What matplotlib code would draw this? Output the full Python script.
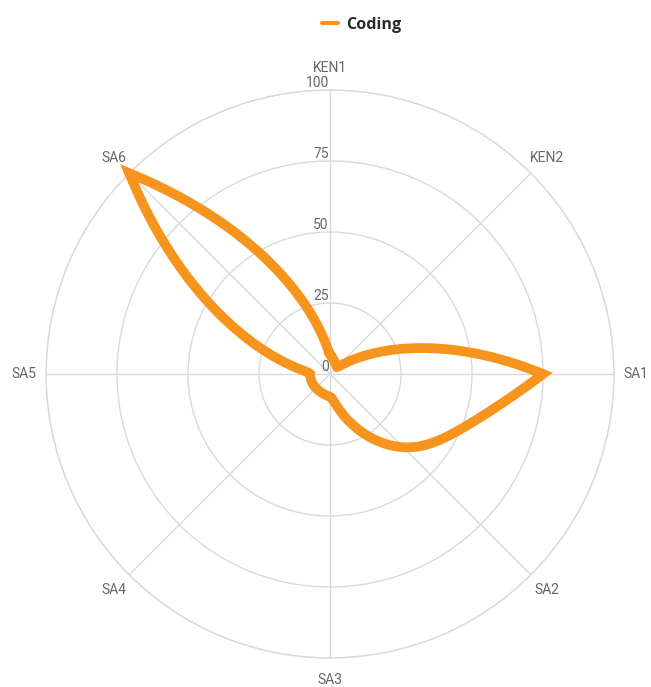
import numpy as np
import matplotlib.pyplot as plt

# 레이더 차트 데이터
categories = ['KEN1', 'KEN2', 'SA1', 'SA2', 'SA3', 'SA4', 'SA5', 'SA6']
coding = [7, 3.5, 75, 36.5, 8, 7, 7, 100]
r_ticks = [0, 25, 50, 75, 100]
series_name = 'Coding'

orange = '#F7941D'
grey_txt = '#666666'
grid_col = '#dadada'


# 이웃한 축 사이를 극좌표 공간의 hermite 곡선으로 잇는다.
# 봉우리(최대값)에서는 뾰족하게, 나머지에서는 부드럽게.
def smooth_radar(values, steps=80):
    v = np.asarray(values, dtype=float)
    n = len(v)
    m_in = np.zeros(n)
    m_out = np.zeros(n)
    for i in range(n):
        s_in = v[i] - v[i - 1]
        s_out = v[(i + 1) % n] - v[i]
        if s_in > 0 and s_out < 0:
            m_in[i] = 2 * s_in
            m_out[i] = 2 * s_out
        elif s_in * s_out > 0:
            m_in[i] = m_out[i] = 2 * s_in * s_out / (s_in + s_out)
    step = 2 * np.pi / n
    t = np.linspace(0, 1, steps, endpoint=False)
    h00 = 2 * t**3 - 3 * t**2 + 1
    h10 = t**3 - 2 * t**2 + t
    h01 = -2 * t**3 + 3 * t**2
    h11 = t**3 - t**2
    th_all, r_all = [], []
    for i in range(n):
        j = (i + 1) % n
        r = h00 * v[i] + h10 * m_out[i] + h01 * v[j] + h11 * m_in[j]
        th_all.append(i * step + t * step)
        r_all.append(r)
    th_all.append([2 * np.pi])
    r_all.append([v[0]])
    return np.concatenate(th_all), np.concatenate(r_all)


fig = plt.figure(figsize=(6.51, 6.87), dpi=100)
ax = fig.add_axes([0.0707, 0.0422, 0.8725, 0.8268], projection='polar')
ax.set_theta_zero_location('N')
ax.set_theta_direction(-1)

angles = np.arange(len(categories)) * 2 * np.pi / len(categories)

th, rr = smooth_radar(coding)
line, = ax.plot(th, rr, color=orange, lw=7, solid_joinstyle='miter',
                clip_on=False, zorder=5)

# 격자
ax.set_ylim(0, 100)
ax.set_yticks(r_ticks)
ax.set_yticklabels([])
ax.set_xticks(angles)
ax.set_xticklabels([])
ax.tick_params(length=0)
ax.grid(True, color=grid_col, lw=1)
ax.spines['polar'].set_color(grid_col)
ax.spines['polar'].set_linewidth(1)

# 축 이름
for a, name in zip(angles, categories):
    ax.text(a, 107.8, name, ha='center', va='center', fontsize=10,
            color=grey_txt, family='Roboto', clip_on=False)

# 반지름 눈금 숫자
for v in r_ticks:
    ax.annotate(str(v), xy=(0, v), xytext=(-1, 2.3), textcoords='offset points',
                ha='right', va='baseline', fontsize=10, color=grey_txt,
                family='Roboto', zorder=3)

leg = fig.legend(handles=[line], labels=[series_name], loc='center',
                 bbox_to_anchor=(0.556, 0.9636), frameon=False,
                 handlelength=1.0, handletextpad=0.5,
                 prop={'family': 'Open Sans', 'weight': 'bold', 'size': 11.6})
for t in leg.get_texts():
    t.set_color('#2b2b2b')
for l in leg.get_lines():
    l.set_linewidth(3.0)
    l.set_solid_capstyle('round')

fig.savefig('out.png', dpi=100, facecolor='white')
